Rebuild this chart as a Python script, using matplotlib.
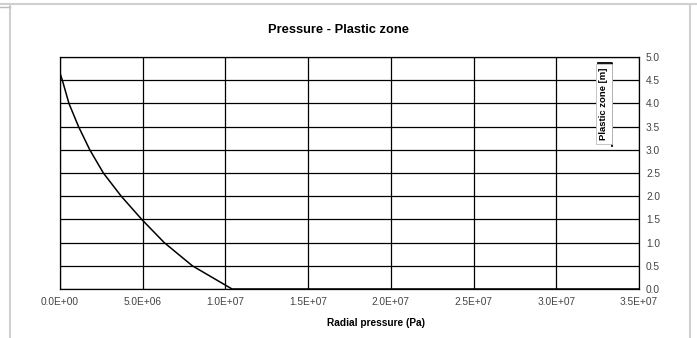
import matplotlib.pyplot as plt
from matplotlib.lines import Line2D
from matplotlib.ticker import FuncFormatter

plt.rcParams['font.family'] = ['Liberation Sans', 'DejaVu Sans']

# radial pressure (Pa) vs plastic zone (m)
pressure = [0.0, 0.14e6, 0.54e6, 1.12e6, 1.8e6, 2.62e6, 3.7e6, 4.94e6, 6.3e6,
            8.0e6, 1.04e7, 1.5e7, 2.0e7, 2.5e7, 3.0e7, 3.5e7]
plastic_zone = [4.65, 4.5, 4.0, 3.5, 3.0, 2.5, 2.0, 1.5, 1.0,
                0.5, 0.0, 0.0, 0.0, 0.0, 0.0, 0.0]
x_ticks = [0, 5e6, 1e7, 1.5e7, 2e7, 2.5e7, 3e7, 3.5e7]
y_ticks = [0, 0.5, 1.0, 1.5, 2.0, 2.5, 3.0, 3.5, 4.0, 4.5, 5.0]

fig = plt.figure(figsize=(6.97, 3.38), dpi=100)
W, H = 697, 338
ax = fig.add_axes([60 / W, 1 - 289 / H, 579 / W, 232 / H])

ax.plot(pressure, plastic_zone, color='black', lw=1.1)
ax.set_xlim(0, 3.5e7)
ax.set_ylim(0, 5)
ax.set_xticks(x_ticks)
ax.set_yticks(y_ticks)
ax.xaxis.set_major_formatter(FuncFormatter(lambda v, p: '%.1E' % v))
ax.yaxis.set_major_formatter(FuncFormatter(lambda v, p: '%.1f' % v))
ax.yaxis.tick_right()
ax.tick_params(length=0, labelsize=7.3, colors='#444444', pad=5)
ax.tick_params(axis='x', pad=6)
ax.grid(True, color='black', lw=0.9)
for s in ax.spines.values():
    s.set_color('black')
    s.set_linewidth(0.9)

fig.text(376 / W, 1 - 323 / H, 'Radial pressure (Pa)', ha='center', va='center',
         fontsize=7.3, fontweight='bold')
fig.text(339 / W, 1 - 30 / H, 'Pressure - Plastic zone', ha='center', va='center',
         fontsize=9.3, fontweight='bold')

# legend box, rotated
fig.text(604 / W, 1 - 104 / H, 'Plastic zone [m]', rotation=90, ha='center',
         va='center', fontsize=6.8, fontweight='bold',
         bbox=dict(boxstyle='square,pad=0.4', fc='white', ec='#bbbbbb', lw=0.6))
fig.add_artist(Line2D([598 / W, 612 / W, 612 / W], [1 - 63 / H, 1 - 63 / H, 1 - 146 / H],
                      color='black', lw=1.3))

# spreadsheet cell borders
fig.add_artist(Line2D([0, 1], [1 - 4 / H, 1 - 4 / H], color='#d0d0d0', lw=1.5))
fig.add_artist(Line2D([10 / W, 10 / W], [0, 1 - 4 / H], color='#d0d0d0', lw=1.5))
fig.add_artist(Line2D([690 / W, 690 / W], [0, 1 - 4 / H], color='#d0d0d0', lw=1.5))
fig.add_artist(Line2D([0, 10 / W], [1 - 7 / H, 1 - 7 / H], color='#bbbbbb', lw=1))

fig.savefig('out.png', dpi=100)
